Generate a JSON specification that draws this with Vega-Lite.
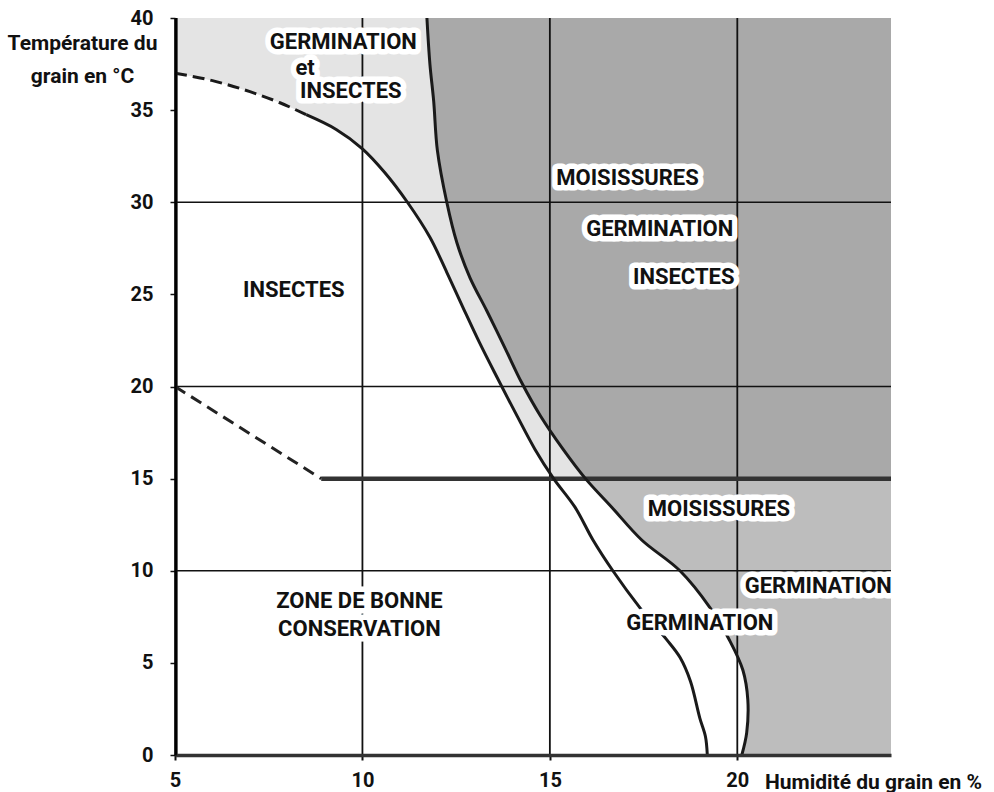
{
  "$schema": "https://vega.github.io/schema/vega-lite/v6.json",
  "width": 716,
  "height": 737,
  "autosize": {"type": "none"},
  "padding": {"left": 175, "top": 18, "right": 103, "bottom": 37},
  "background": "white",
  "config": {"view": {"stroke": null}, "font": "Roboto"},
  "datasets": {
    "curveA": [
      {"h": 5, "t": 37, "seg": "dash"},
      {"h": 6, "t": 36.6, "seg": "dash"},
      {"h": 7, "t": 36.0, "seg": "dash"},
      {"h": 7.8, "t": 35.4, "seg": "dash"},
      {"h": 8.5, "t": 34.75, "seg": "dash"},
      {"h": 8.5, "t": 34.75, "seg": "solid"},
      {"h": 9.3, "t": 33.95, "seg": "solid"},
      {"h": 10, "t": 32.9, "seg": "solid"},
      {"h": 10.6, "t": 31.6, "seg": "solid"},
      {"h": 11.2, "t": 30, "seg": "solid"},
      {"h": 11.8, "t": 28.1, "seg": "solid"},
      {"h": 12.25, "t": 26.2, "seg": "solid"},
      {"h": 12.68, "t": 24.3, "seg": "solid"},
      {"h": 13.13, "t": 22.35, "seg": "solid"},
      {"h": 13.59, "t": 20.5, "seg": "solid"},
      {"h": 14.1, "t": 18.5, "seg": "solid"},
      {"h": 14.6, "t": 16.6, "seg": "solid"},
      {"h": 15.1, "t": 15, "seg": "solid"},
      {"h": 15.67, "t": 13.45, "seg": "solid"},
      {"h": 16.15, "t": 11.67, "seg": "solid"},
      {"h": 16.68, "t": 10, "seg": "solid"},
      {"h": 17.4, "t": 8.0, "seg": "solid"},
      {"h": 18.1, "t": 6.3, "seg": "solid"},
      {"h": 18.47, "t": 5.3, "seg": "solid"},
      {"h": 18.75, "t": 4.0, "seg": "solid"},
      {"h": 19.0, "t": 2.0, "seg": "solid"},
      {"h": 19.15, "t": 1.0, "seg": "solid"},
      {"h": 19.2, "t": 0, "seg": "solid"}
    ],
    "curveB": [
      {"h": 11.72, "t": 40},
      {"h": 11.8, "t": 37.5},
      {"h": 11.9, "t": 35.5},
      {"h": 12.0, "t": 32.8},
      {"h": 12.25, "t": 30},
      {"h": 12.52, "t": 27.8},
      {"h": 12.87, "t": 25.9},
      {"h": 13.32, "t": 24.1},
      {"h": 13.8, "t": 22.1},
      {"h": 14.25, "t": 20.2},
      {"h": 14.75, "t": 18.4},
      {"h": 15.35, "t": 16.6},
      {"h": 15.95, "t": 15},
      {"h": 16.65, "t": 13.45},
      {"h": 17.45, "t": 11.67},
      {"h": 18.47, "t": 10},
      {"h": 19.27, "t": 8.0},
      {"h": 19.8, "t": 6.2},
      {"h": 20.15, "t": 4.6},
      {"h": 20.28, "t": 3.0},
      {"h": 20.25, "t": 1.2},
      {"h": 20.12, "t": 0}
    ],
    "lineD": [
      {"h": 5, "t": 20},
      {"h": 8.9, "t": 15}
    ],
    "thick": [
      {"h": 8.9, "h2": 24.1, "t": 15}
    ],
    "axisY": [{"h": 5.03}],
    "gridX": [{"h": 10}, {"h": 15}, {"h": 20}],
    "gridY": [{"t": 10}, {"t": 20}, {"t": 30}],
    "labels": [
      {"label": "GERMINATION", "h": 9.49, "t": 38.72},
      {"label": "et", "h": 8.47, "t": 37.29},
      {"label": "INSECTES", "h": 9.69, "t": 36.04},
      {"label": "MOISISSURES", "h": 17.07, "t": 31.29},
      {"label": "GERMINATION", "h": 17.93, "t": 28.55},
      {"label": "INSECTES", "h": 18.57, "t": 25.92},
      {"label": "INSECTES", "h": 8.17, "t": 25.24},
      {"label": "MOISISSURES", "h": 19.51, "t": 13.35},
      {"label": "GERMINATION", "h": 22.16, "t": 9.15},
      {"label": "GERMINATION", "h": 19.0, "t": 7.14},
      {"label": "ZONE DE BONNE", "h": 9.92, "t": 8.36},
      {"label": "CONSERVATION", "h": 9.92, "t": 6.84}
    ]
  },
  "layer": [
    {
      "data": {"values": [{"a": 1}]},
      "mark": {"type": "rect", "color": "#e4e4e4"},
      "encoding": {
        "x": {
          "datum": 5, "type": "quantitative",
          "scale": {"domain": [5, 24.1], "nice": false, "zero": false},
          "axis": {
            "values": [5, 10, 15, 20],
            "grid": false, "zindex": 1,
            "title": "Humidité du grain en %",
            "titleFont": "Roboto", "titleFontWeight": "bold", "titleFontSize": 21,
            "titleColor": "#111", "titleAlign": "center", "titleAnchor": null,
            "titleX": 698, "titleY": 33, "titleBaseline": "alphabetic",
            "labelFont": "Roboto", "labelFontWeight": "bold", "labelFontSize": 20,
            "labelColor": "#111", "labelPadding": 10, "labelFlush": false,
            "domainColor": "#333", "domainWidth": 3.5,
            "tickColor": "#111", "tickSize": 5, "tickWidth": 2
          }
        },
        "x2": {"datum": 24.1},
        "y": {
          "datum": 15, "type": "quantitative",
          "scale": {"domain": [0, 40], "nice": false, "zero": false},
          "axis": {
            "values": [0, 5, 10, 15, 20, 25, 30, 35, 40],
            "grid": false, "zindex": 1,
            "title": ["Température du", "grain en  °C"],
            "titleFont": "Roboto", "titleFontWeight": "bold", "titleFontSize": 21,
            "titleColor": "#111", "titleAngle": 0, "titleAlign": "center", "titleAnchor": null,
            "titleX": -93, "titleY": 31, "titleBaseline": "alphabetic", "titleLineHeight": 33,
            "labelFont": "Roboto", "labelFontWeight": "bold", "labelFontSize": 20,
            "labelColor": "#111", "labelPadding": 17, "labelFlush": false,
            "domainColor": "#000", "domainWidth": 2.5,
            "tickColor": "#111", "tickSize": 5, "tickWidth": 1.5
          }
        },
        "y2": {"datum": 40}
      }
    },
    {
      "data": {"name": "curveA"},
      "transform": [{"filter": "datum.t >= 15"}],
      "mark": {"type": "area", "color": "white", "orient": "vertical", "interpolate": "monotone"},
      "encoding": {
        "x": {"field": "h", "type": "quantitative"},
        "y": {"field": "t", "type": "quantitative"},
        "y2": {"datum": 14.7}
      }
    },
    {
      "data": {"name": "curveB"},
      "transform": [{"filter": "datum.t >= 15"}],
      "mark": {"type": "area", "color": "#a9a9a9", "orient": "horizontal", "interpolate": "catmull-rom"},
      "encoding": {
        "y": {"field": "t", "type": "quantitative"},
        "x": {"field": "h", "type": "quantitative"},
        "x2": {"datum": 24.1}
      }
    },
    {
      "data": {"name": "curveB"},
      "transform": [{"filter": "datum.t <= 15"}],
      "mark": {"type": "area", "color": "#bdbdbd", "orient": "horizontal", "interpolate": "catmull-rom"},
      "encoding": {
        "y": {"field": "t", "type": "quantitative"},
        "x": {"field": "h", "type": "quantitative"},
        "x2": {"datum": 24.1}
      }
    },
    {
      "data": {"name": "gridX"},
      "mark": {"type": "rule", "color": "#111", "strokeWidth": 1.8},
      "encoding": {"x": {"field": "h", "type": "quantitative"}}
    },
    {
      "data": {"name": "axisY"},
      "mark": {"type": "rule", "color": "#000", "strokeWidth": 3},
      "encoding": {
        "x": {"field": "h", "type": "quantitative"},
        "y": {"datum": 0, "type": "quantitative"},
        "y2": {"datum": 40}
      }
    },
    {
      "data": {"name": "gridY"},
      "mark": {"type": "rule", "color": "#111", "strokeWidth": 1.6},
      "encoding": {"y": {"field": "t", "type": "quantitative"}}
    },
    {
      "data": {"name": "thick"},
      "mark": {"type": "rule", "color": "#333", "strokeWidth": 4.5},
      "encoding": {
        "x": {"field": "h", "type": "quantitative"},
        "x2": {"field": "h2"},
        "y": {"field": "t", "type": "quantitative"}
      }
    },
    {
      "data": {"name": "lineD"},
      "mark": {"type": "line", "color": "#222", "strokeWidth": 3, "strokeDash": [12, 7]},
      "encoding": {
        "x": {"field": "h", "type": "quantitative"},
        "y": {"field": "t", "type": "quantitative"}
      }
    },
    {
      "data": {"name": "curveA"},
      "transform": [{"filter": "datum.seg == 'dash'"}],
      "mark": {"type": "line", "color": "#1a1a1a", "strokeWidth": 3, "strokeDash": [12, 6], "interpolate": "monotone"},
      "encoding": {
        "x": {"field": "h", "type": "quantitative"},
        "y": {"field": "t", "type": "quantitative"},
        "order": {"field": "t", "sort": "descending"}
      }
    },
    {
      "data": {"name": "curveA"},
      "transform": [{"filter": "datum.seg == 'solid'"}],
      "mark": {"type": "line", "color": "#1a1a1a", "strokeWidth": 3, "interpolate": "catmull-rom"},
      "encoding": {
        "x": {"field": "h", "type": "quantitative"},
        "y": {"field": "t", "type": "quantitative"},
        "order": {"field": "t", "sort": "descending"}
      }
    },
    {
      "data": {"name": "curveB"},
      "mark": {"type": "line", "color": "#1a1a1a", "strokeWidth": 3, "interpolate": "catmull-rom"},
      "encoding": {
        "x": {"field": "h", "type": "quantitative"},
        "y": {"field": "t", "type": "quantitative"},
        "order": {"field": "t", "sort": "descending"}
      }
    },
    {
      "data": {"name": "labels"},
      "mark": {
        "type": "text", "font": "Roboto", "fontWeight": "bold", "fontSize": 22,
        "align": "center", "baseline": "middle", "color": "white",
        "stroke": "white", "strokeWidth": 11, "strokeJoin": "round"
      },
      "encoding": {
        "x": {"field": "h", "type": "quantitative"},
        "y": {"field": "t", "type": "quantitative"},
        "text": {"field": "label"}
      }
    },
    {
      "data": {"name": "labels"},
      "mark": {
        "type": "text", "font": "Roboto", "fontWeight": "bold", "fontSize": 22,
        "align": "center", "baseline": "middle", "color": "#111"
      },
      "encoding": {
        "x": {"field": "h", "type": "quantitative"},
        "y": {"field": "t", "type": "quantitative"},
        "text": {"field": "label"}
      }
    }
  ]
}
